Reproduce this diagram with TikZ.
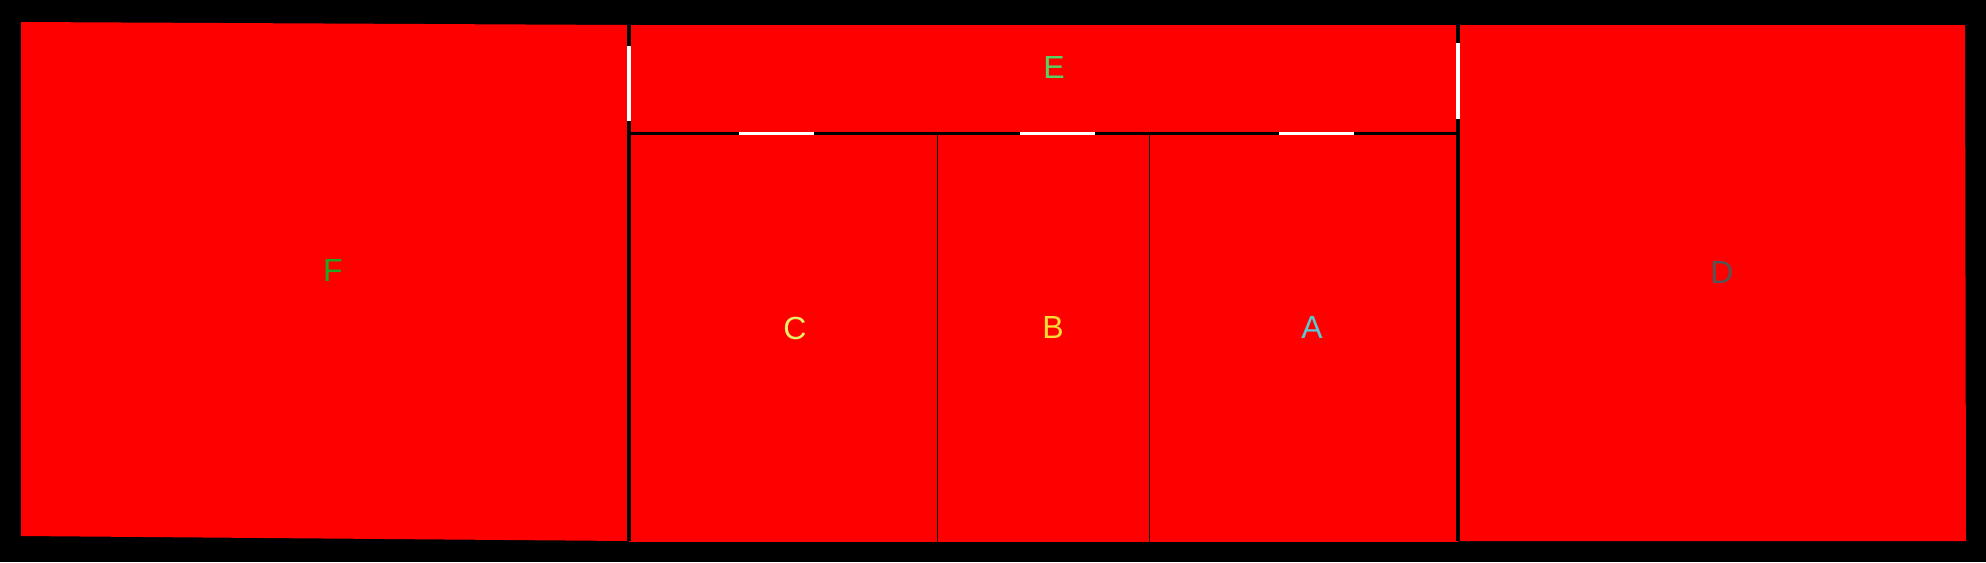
\documentclass[tikz,border=0pt]{standalone}
\usepackage{fontspec}
\setsansfont{Liberation Sans}
\definecolor{roomred}{RGB}{255,0,0}
\definecolor{fgreen}{RGB}{30,170,30}
\definecolor{egreen}{RGB}{85,210,100}
\definecolor{cyellow}{RGB}{230,240,100}
\definecolor{byellow}{RGB}{255,220,50}
\definecolor{acyan}{RGB}{90,200,210}
\definecolor{dgray}{RGB}{85,85,85}
\tikzset{
  room/.style={fill=roomred},
  wall/.style={black,line width=1.2pt},
  thinwall/.style={black,line width=0.45pt},
  door/.style={white,line width=1.1pt},
  roomname/.style={font=\sffamily\fontsize{9.1}{9.1}\selectfont,inner sep=0pt}
}
\begin{document}
\begin{tikzpicture}[x=0.1mm,y=-0.1mm]

    \fill[black] (0,0) rectangle (1986,562);

    % rooms
    \fill[room] (21,22) -- (627,25) -- (627,541) -- (21,536) -- cycle;
    \fill[room] (629,25) rectangle (1458,134);
    \fill[room] (629,134) rectangle (1458,542);
    \fill[room] (1458,25) -- (1965,25) -- (1966,541) -- (1458,541) -- cycle;

    % walls
    \coordinate (w1) at (629,25);
    \coordinate (w2) at (629,541);
    \coordinate (w3) at (1458,25);
    \coordinate (w4) at (1458,541);
    \coordinate (h1) at (629,133.5);
    \coordinate (h2) at (1458,133.5);
    \draw[wall] (w1) -- (w2);
    \draw[wall] (w3) -- (w4);
    \draw[black,line width=0.9pt] (h1) -- (h2);
    \draw[thinwall] (937.5,134) -- (937.5,542);
    \draw[thinwall] (1149.5,134) -- (1149.5,542);

    % doors
    \draw[door] (629,46) -- (629,121);
    \draw[door] (1458,43) -- (1458,119);
    \draw[door] (739,133.5) -- (814,133.5);
    \draw[door] (1020,133.5) -- (1095,133.5);
    \draw[door] (1279,133.5) -- (1354,133.5);

    % names
    \node[roomname,text=fgreen] (F) at (333,270) {F};
    \node[roomname,text=egreen] (E) at (1054,67) {E};
    \node[roomname,text=cyellow] (C) at (795,328) {C};
    \node[roomname,text=byellow] (B) at (1053,327) {B};
    \node[roomname,text=acyan] (A) at (1312,327) {A};
    \node[roomname,text=dgray] (D) at (1722,272) {D};
\end{tikzpicture}
\end{document}
